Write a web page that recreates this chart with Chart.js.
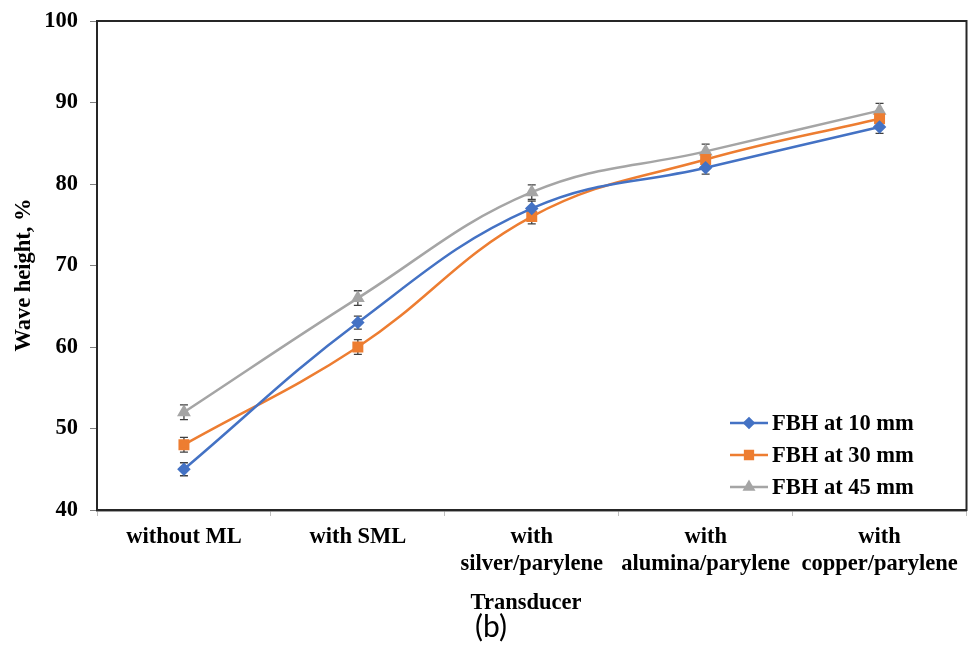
<!DOCTYPE html>
<html>
<head>
<meta charset="utf-8">
<script src="https://cdn.jsdelivr.net/npm/chart.js@4/dist/chart.umd.min.js"></script>
<style>
  html, body { margin: 0; padding: 0; background: #fff; }
  #wrap { width: 975px; height: 645px; position: relative; }
</style>
</head>
<body>
<div id="wrap"><canvas id="myChart"></canvas></div>
<script>
/* data */
const categories = [
  'without ML',
  'with SML',
  ['with', 'silver/parylene'],
  ['with', 'alumina/parylene'],
  ['with', 'copper/parylene']
];
const fbh10 = [45, 63, 77, 82, 87];
const fbh30 = [48, 60, 76, 83, 88];
const fbh45 = [52, 66, 79, 84, 89];
const err10 = [0.8, 0.8, 0.9, 0.8, 0.8];
const err30 = [0.9, 0.9, 0.9, 0.9, 0.9];
const err45 = [0.9, 0.9, 0.9, 0.9, 0.9];
const seriesNames = ['FBH at 10 mm', 'FBH at 30 mm', 'FBH at 45 mm'];
const yTicks = [40, 50, 60, 70, 80, 90, 100];

const serif = "'Liberation Serif', 'Times New Roman', serif";

// error bars, frame, axis titles, legend
const extras = {
  id: 'extras',
  beforeDatasetsDraw(chart) {
    const ctx = chart.ctx;
    const y = chart.scales.y;
    ctx.save();
    ctx.strokeStyle = '#404040';
    ctx.lineWidth = 1.3;
    chart.data.datasets.forEach(function(ds, i) {
      const meta = chart.getDatasetMeta(i);
      meta.data.forEach(function(pt, j) {
        const top = y.getPixelForValue(ds.data[j] + ds.errors[j]);
        const bot = y.getPixelForValue(ds.data[j] - ds.errors[j]);
        ctx.beginPath();
        ctx.moveTo(pt.x, top); ctx.lineTo(pt.x, bot);
        ctx.moveTo(pt.x - 4, top); ctx.lineTo(pt.x + 4, top);
        ctx.moveTo(pt.x - 4, bot); ctx.lineTo(pt.x + 4, bot);
        ctx.stroke();
      });
    });
    ctx.restore();
  },
  afterDraw(chart) {
    const ctx = chart.ctx;
    const a = chart.chartArea;
    ctx.save();
    // frame
    ctx.strokeStyle = '#262626';
    ctx.lineWidth = 2;
    ctx.strokeRect(a.left, a.top, a.right - a.left, a.bottom - a.top);

    // axis titles
    ctx.fillStyle = '#000';
    ctx.font = 'bold 22.5px ' + serif;
    ctx.textAlign = 'center';
    ctx.textBaseline = 'middle';
    ctx.fillText('Transducer', 526, 603);
    ctx.save();
    ctx.translate(24, 275);
    ctx.rotate(-Math.PI / 2);
    ctx.fillText('Wave height, %', 0, 0);
    ctx.restore();
    ctx.font = "30px Lato, 'Open Sans', sans-serif";
    ctx.fillText('(b)', 491, 627);

    // legend inside plot
    const rows = [423, 455, 487];
    chart.data.datasets.forEach(function(ds, i) {
      const ly = rows[i];
      ctx.strokeStyle = ds.borderColor;
      ctx.lineWidth = 2.5;
      ctx.beginPath();
      ctx.moveTo(730, ly); ctx.lineTo(768, ly);
      ctx.stroke();
      Chart.helpers.drawPoint(ctx, {
        pointStyle: ds.pointStyle, radius: ds.pointRadius - 0.5, borderWidth: 1
      }, 749, ly);
      ctx.fillStyle = ds.borderColor;
      ctx.fill();
      ctx.fillStyle = '#000';
      ctx.font = 'bold 22.5px ' + serif;
      ctx.textAlign = 'left';
      ctx.fillText(ds.label, 772, ly + 1);
    });
    ctx.restore();
  }
};

function series(name, values, errors, color, style, r) {
  return {
    label: name,
    data: values,
    errors: errors,
    borderColor: color,
    backgroundColor: color,
    pointBackgroundColor: color,
    pointBorderColor: color,
    pointStyle: style,
    pointRadius: r,
    borderWidth: 2.5,
    tension: 0.4,
    fill: false
  };
}

const ctx = document.getElementById('myChart').getContext('2d');
const chart = new Chart(ctx, {
  type: 'line',
  data: {
    labels: categories,
    datasets: [
      series(seriesNames[0], fbh10, err10, '#4472C4', 'rectRot', 5),
      series(seriesNames[1], fbh30, err30, '#ED7D31', 'rect', 6),
      series(seriesNames[2], fbh45, err45, '#A5A5A5', 'triangle', 5.5)
    ]
  },
  options: {
    responsive: true,
    maintainAspectRatio: false,
    animation: false,
    layout: { padding: { top: 21, right: 7, left: 0, bottom: 0 } },
    plugins: {
      legend: { display: false },
      tooltip: { enabled: false }
    },
    scales: {
      x: {
        offset: true,
        afterFit: function(s) { s.height = 135; s.paddingLeft = 0; s.paddingRight = 0; },
        grid: {
          offset: true,
          drawOnChartArea: false,
          tickLength: 6,
          color: '#bfbfbf'
        },
        border: { color: '#404040', width: 2.5 },
        ticks: {
          padding: 8,
          maxRotation: 0,
          autoSkip: false,
          color: '#000',
          font: { family: serif, size: 22.5, weight: 'bold', lineHeight: 1.2 }
        }
      },
      y: {
        min: 40,
        max: 100,
        afterFit: function(s) { s.width = 97; s.paddingTop = 0; s.paddingBottom = 0; },
        afterBuildTicks: function(s) { s.ticks = yTicks.map(function(v) { return { value: v }; }); },
        grid: {
          drawOnChartArea: false,
          tickLength: 7,
          color: '#7f7f7f'
        },
        border: { color: '#404040', width: 2 },
        ticks: {
          padding: 12,
          color: '#000',
          font: { family: serif, size: 22.5, weight: 'bold' }
        }
      }
    }
  },
  plugins: [extras]
});
</script>
</body>
</html>
